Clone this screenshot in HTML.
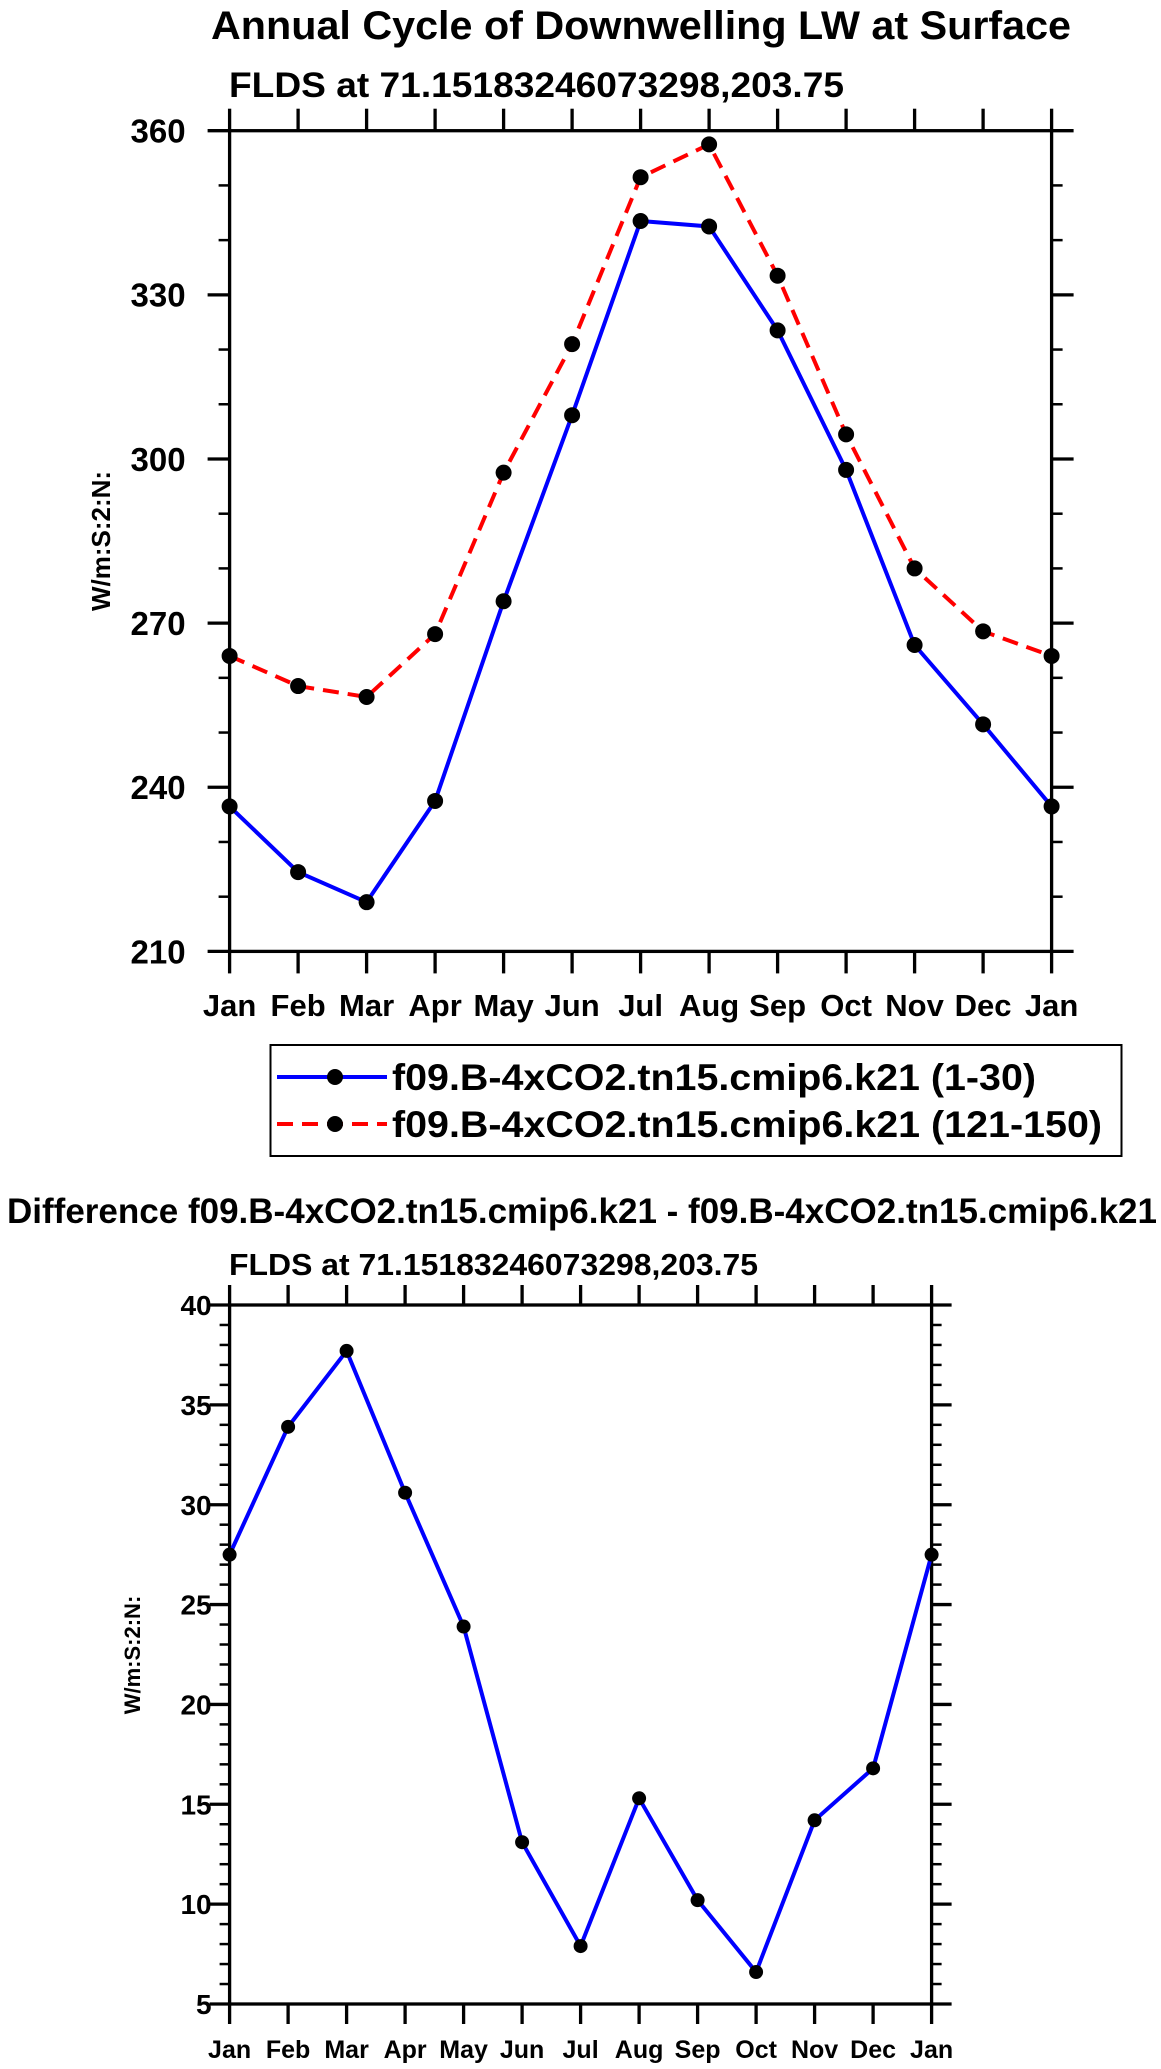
<!DOCTYPE html>
<html><head><meta charset="utf-8"><style>
html,body{margin:0;padding:0;background:#fff;}
svg{display:block;font-family:"Liberation Sans",sans-serif;font-weight:bold;}
</style></head><body>
<svg id="fig" width="1161" height="2069" viewBox="0 0 1161 2069">
<text x="211" y="39" font-size="40" textLength="860" lengthAdjust="spacingAndGlyphs">Annual Cycle of Downwelling LW at Surface</text>
<text x="229" y="97" font-size="35" textLength="615" lengthAdjust="spacingAndGlyphs">FLDS at 71.15183246073298,203.75</text>
<text transform="translate(110,541) rotate(-90)" font-size="26" text-anchor="middle">W/m:S:2:N:</text>
<g id="top"></g>
<g>
<rect x="270.5" y="1045" width="851" height="111" fill="#fff" stroke="#000" stroke-width="2"/>
<g>
<line x1="277" y1="1077" x2="387" y2="1077" stroke="#0000ff" stroke-width="4"/>
<circle cx="335" cy="1077" r="8" fill="#000"/>
<text x="392" y="1090" font-size="37" textLength="644" lengthAdjust="spacingAndGlyphs">f09.B-4xCO2.tn15.cmip6.k21 (1-30)</text>
</g>
<g>
<line x1="277" y1="1124" x2="387" y2="1124" stroke="#ff0000" stroke-width="4" stroke-dasharray="16,9"/>
<circle cx="335" cy="1124" r="8" fill="#000"/>
<text x="392" y="1137" font-size="37" textLength="710" lengthAdjust="spacingAndGlyphs">f09.B-4xCO2.tn15.cmip6.k21 (121-150)</text>
</g>
</g>
<text x="7" y="1223" font-size="35" textLength="1150" lengthAdjust="spacingAndGlyphs">Difference f09.B-4xCO2.tn15.cmip6.k21 - f09.B-4xCO2.tn15.cmip6.k21</text>
<text x="229" y="1275" font-size="31" textLength="529" lengthAdjust="spacingAndGlyphs">FLDS at 71.15183246073298,203.75</text>
<text transform="translate(140,1655) rotate(-90)" font-size="22" text-anchor="middle">W/m:S:2:N:</text>
<g id="bot"></g>
</svg>
<script>
const months = ["Jan","Feb","Mar","Apr","May","Jun","Jul","Aug","Sep","Oct","Nov","Dec","Jan"];
const topBlue = [236.5,224.5,219,237.5,274,308,343.5,342.5,323.5,298,266,251.5,236.5];
const topRed = [264,258.5,256.5,268,297.5,321,351.5,357.5,333.5,304.5,280,268.5,264];
const topTicks = [210,240,270,300,330,360];
const diffVals = [27.5,33.9,37.7,30.6,23.9,13.1,7.9,15.3,10.2,6.6,14.2,16.8,27.5];
const botTicks = [5,10,15,20,25,30,35,40];
const NS="http://www.w3.org/2000/svg";
function mk(parent,tag,attrs){const e=document.createElementNS(NS,tag);for(const k in attrs)e.setAttribute(k,attrs[k]);parent.appendChild(e);return e;}
function chart(g,L,R,T,B,ymin,ymax,ticks,minorStep,series,yfs,xfs,labY,labGap,tickLen,mr){
  const sx=i=>L+(R-L)*i/(months.length-1);
  const sy=v=>B-(B-T)*(v-ymin)/(ymax-ymin);
  for(let v=ymin;v<=ymax+1e-9;v+=minorStep){
    if(ticks.some(t=>Math.abs(t-v)<1e-6))continue;
    const a=mk(g,'line',{x1:L-tickLen/2,x2:L,y1:sy(v),y2:sy(v),stroke:'#000','stroke-width':2.5});
    
    
    const b=mk(g,'line',{x1:R,x2:R+tickLen/2,y1:sy(v),y2:sy(v),stroke:'#000','stroke-width':2.5});
    
    
  }
  ticks.forEach(v=>{
    const y=sy(v);
    const a=mk(g,'line',{x1:L-tickLen,x2:L,y1:y,y2:y,stroke:'#000','stroke-width':3.3});
    
    
    const b=mk(g,'line',{x1:R,x2:R+tickLen,y1:y,y2:y,stroke:'#000','stroke-width':3.3});
    
    
    const t=mk(g,'text',{x:L-labGap,y:y+yfs*0.36,'font-size':yfs,'text-anchor':'end'});
    t.textContent=v;
    
    
  });
  months.forEach((m,i)=>{
    const x=sx(i);
    const a=mk(g,'line',{x1:x,x2:x,y1:B,y2:B+tickLen,stroke:'#000','stroke-width':3.3});
    
    
    const b=mk(g,'line',{x1:x,x2:x,y1:T-tickLen,y2:T,stroke:'#000','stroke-width':3.3});
    
    
    const t=mk(g,'text',{x:x,y:labY,'font-size':xfs,'text-anchor':'middle'});
    t.textContent=m;
    
    
  });
  const fr=mk(g,'rect',{x:L,y:T,width:R-L,height:B-T,fill:'none',stroke:'#000','stroke-width':3.3});
  
  
  series.forEach(s=>{
    const pl=mk(g,'polyline',{points:s.vals.map((v,i)=>sx(i)+','+sy(v)).join(' '),fill:'none',stroke:s.color,'stroke-width':4,'stroke-dasharray':s.dash||'none'});
    
    
    s.vals.forEach((v,i)=>{
      const c=mk(g,'circle',{cx:sx(i),cy:sy(v),r:mr,fill:'#000'});
      
      
    });
  });
}
chart(document.getElementById('top'),229.6,1051.6,130.7,951.4,210,360,topTicks,10,
 [{vals:topBlue,color:'#0000ff',name:'series-1-30'},{vals:topRed,color:'#ff0000',dash:'16,9',name:'series-121-150'}],33,31,1016,44,22,8);
chart(document.getElementById('bot'),229.6,931.6,1305,2004,5,40,botTicks,1,
 [{vals:diffVals,color:'#0000ff',name:'difference'}],28,25,2058,18,20,7);
</script>
</body></html>
